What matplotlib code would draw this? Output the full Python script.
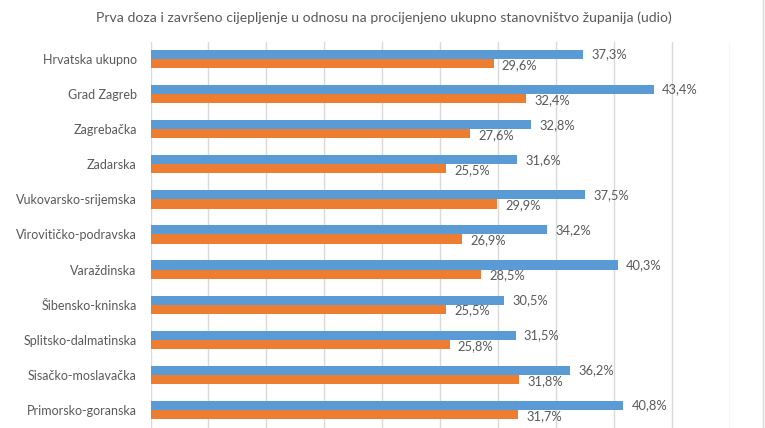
import matplotlib
matplotlib.use("Agg")
import matplotlib.pyplot as plt
import numpy as np
from matplotlib.lines import Line2D

title = "Prva doza i završeno cijepljenje u odnosu na procijenjeno ukupno stanovništvo županija (udio)"
categories = ["Hrvatska ukupno", "Grad Zagreb", "Zagrebačka", "Zadarska",
              "Vukovarsko-srijemska", "Virovitičko-podravska", "Varaždinska",
              "Šibensko-kninska", "Splitsko-dalmatinska", "Sisačko-moslavačka",
              "Primorsko-goranska"]
prva_doza = [37.3, 43.4, 32.8, 31.6, 37.5, 34.2, 40.3, 30.5, 31.5, 36.2, 40.8]
zavrseno = [29.6, 32.4, 27.6, 25.5, 29.9, 26.9, 28.5, 25.5, 25.8, 31.8, 31.7]

plt.rcParams['font.family'] = ['Lato', 'DejaVu Sans']
blue = "#5B9BD5"
orange = "#ED7D31"
txt = "#595959"

fig = plt.figure(figsize=(7.65, 4.28), dpi=100)
ax = fig.add_axes([150.5/765, 0.5/428, (730-150.5)/765, (427.5-41.5)/428])

y = np.arange(len(categories))
h = 0.26
ax.barh(y - h/2, prva_doza, height=h, color=blue, zorder=3)
ax.barh(y + h/2, zavrseno, height=h, color=orange, zorder=3)

for yi, v in zip(y, prva_doza):
    ax.annotate(f"{v:.1f}%".replace(".", ","), (v, yi - h/2), xytext=(6, 0),
                textcoords="offset points", va="center", ha="left",
                fontsize=9.3, color=txt)
for yi, v in zip(y, zavrseno):
    ax.annotate(f"{v:.1f}%".replace(".", ","), (v, yi + h/2 + 0.04), xytext=(6, 0),
                textcoords="offset points", va="center", ha="left",
                fontsize=9.3, color=txt)

ax.set_xlim(0, 50)
ax.set_ylim(len(categories) - 0.5, -0.5)
ax.set_xticks(np.arange(0, 51, 5))
ax.set_xticklabels([])
ax.tick_params(axis='x', length=0)
ax.tick_params(axis='y', length=0, pad=10, labelsize=9, labelcolor=txt)
ax.set_yticks(y)
ax.set_yticklabels(categories)
ax.grid(axis='x', color="#D9D9D9", linewidth=1, zorder=0)
for s in ax.spines.values():
    s.set_visible(False)

fig.text(384/765, 1 - 18/428, title, ha="center", va="center", fontsize=10.1, color=txt)
fig.add_artist(Line2D([762.5/765, 762.5/765], [0, 1], color="#D9D9D9", linewidth=1))

fig.savefig("out.png", dpi=100)
